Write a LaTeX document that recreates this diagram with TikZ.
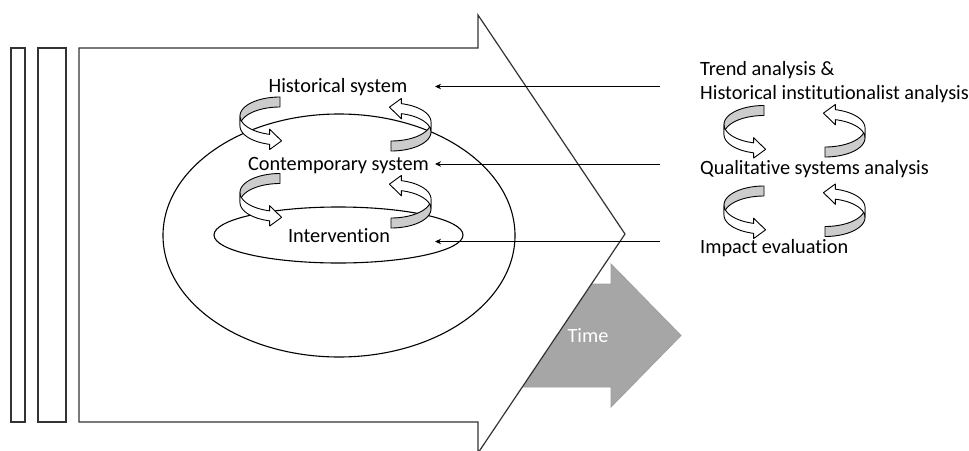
\documentclass[tikz,border=0pt]{standalone}
\usepackage{fontspec}
\setmainfont{Carlito}[Ligatures=NoCommon]
\usetikzlibrary{arrows.meta}
\tikzset{
 outl/.style={draw=black!80, line width=1.2pt},
 conn/.style={draw=black, line width=1pt, -{Stealth[length=6pt,width=5.5pt]}},
 lbl/.style={font=\fontsize{20.3}{24}\selectfont, inner sep=0pt, anchor=base},
 rlbl/.style={lbl, anchor=base west},
 loopback/.style={fill=gray!40, draw=black, line width=0.9pt, line join=round},
 loopfront/.style={fill=white, draw=black, line width=0.9pt, line join=round},
 ell/.style={draw=black, line width=1.1pt},
 timearr/.style={fill=gray!70, draw=gray!75, line width=0.8pt},
}
\newcommand{\looparr}[3]{%
 \begin{scope}[shift={(#1,#2)}, rotate=#3]
 \path[loopback] plot[domain=90:180, samples=24] ({40*cos(\x)}, {-19*sin(\x)-5}) -- plot[domain=180:90, samples=24] ({40*cos(\x)}, {-19*sin(\x)+5}) -- cycle;
 \path[loopfront] plot[domain=180:255, samples=24] ({40*cos(\x)}, {-19*sin(\x)-5}) -- (-10.353,8.153) -- (1.55,19.86) -- (-10.353,28.553) -- plot[domain=255:180, samples=24] ({40*cos(\x)}, {-19*sin(\x)+5}) -- cycle;
 \end{scope}}
\begin{document}
\begin{tikzpicture}[x=1pt, y=-1pt]
\useasboundingbox (0,0) rectangle (969,450);
% Time arrow (behind)
\path[timearr] (500,284) -- (611,284) -- (611,264) -- (681,335.5) -- (611,407) -- (611,387) -- (500,387) -- cycle;
\node[lbl, text=white] (time) at (588,342) {Time};
% big arrow and bars
\draw[outl, fill=white] (79,48) -- (478,48) -- (478,15) -- (625,234) -- (478,453) -- (478,422) -- (79,422) -- cycle;
\draw[outl] (11,48) rectangle (25,422);
\draw[outl] (38,48) rectangle (66,422);
% ellipses
\draw[ell] (339,235.5) ellipse [x radius=176, y radius=121.5];
\draw[ell] (338.5,235) ellipse [x radius=124.5, y radius=28];
% loop arrows
\looparr{280}{121}{0}
\looparr{391}{127}{180}
\looparr{280}{197.5}{0}
\looparr{391}{204}{180}
\looparr{764}{129.5}{0}
\looparr{825}{133}{180}
\looparr{764}{210}{0}
\looparr{825}{212.5}{180}
% labels
\node[lbl] (hist) at (338,92) {Historical system};
\node[lbl] (cont) at (338.5,170) {Contemporary system};
\node[lbl] (interv) at (339,242) {Intervention};
\node[rlbl] (trend) at (700,75) {Trend analysis \&};
\node[rlbl] (histinst) at (700,99) {Historical institutionalist analysis};
\node[rlbl] (qual) at (700,174) {Qualitative systems analysis};
\node[rlbl] (impact) at (700,253) {Impact evaluation};
% connectors
\coordinate (r1) at (660,86.5); \coordinate (l1) at (435,86.5);
\coordinate (r2) at (660,164);  \coordinate (l2) at (435,164);
\coordinate (r3) at (660,241.5);\coordinate (l3) at (435,241.5);
\draw[conn] (r1) -- (l1);
\draw[conn] (r2) -- (l2);
\draw[conn] (r3) -- (l3);
\end{tikzpicture}
\end{document}
